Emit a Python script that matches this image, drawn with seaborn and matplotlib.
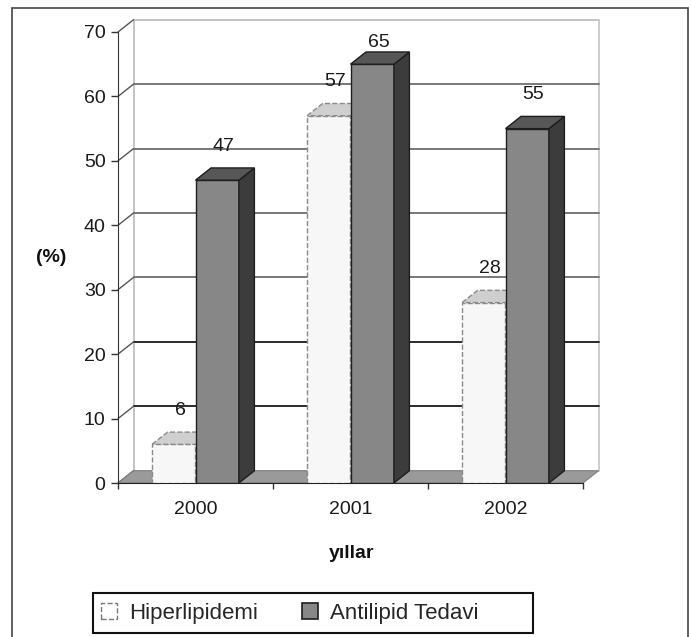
import matplotlib
matplotlib.use("Agg")
import matplotlib.pyplot as plt
from matplotlib.patches import Polygon, Rectangle, Patch
from matplotlib.lines import Line2D
import pandas as pd
import seaborn as sns

# Data
years = ["2000", "2001", "2002"]
series_names = ["Hiperlipidemi", "Antilipid Tedavi"]
hiperlipidemi = [6, 57, 28]
antilipid = [47, 65, 55]
y_ticks = [0, 10, 20, 30, 40, 50, 60, 70]

df = pd.DataFrame({
    "yil": years * 2,
    "deger": hiperlipidemi + antilipid,
    "seri": [series_names[0]] * 3 + [series_names[1]] * 3,
})

sns.set_style("white")
plt.rcParams["font.family"] = ["Liberation Sans Narrow", "Arial Narrow",
                               "Liberation Sans", "DejaVu Sans"]

W, H = 691, 637
fig = plt.figure(figsize=(W / 100, H / 100), dpi=100)
ax = fig.add_axes([118 / W, (H - 483) / H, (583 - 118) / W, (483 - 32) / H])

face = {"Hiperlipidemi": "#f7f7f7", "Antilipid Tedavi": "#878787"}
sns.barplot(data=df, x="yil", y="deger", hue="seri", palette=face,
            width=0.56, gap=0, saturation=1, legend=False, ax=ax, zorder=3)

ax.set_xlim(-0.5, 2.5)
ax.set_ylim(0, 70)

# depth of the pseudo-3D box (data units)
DX, DY = 0.1, 1.9
x0, x1 = -0.5, 2.5

# back wall, floor and gridlines
wall = Rectangle((x0 + DX, DY), x1 - x0, 70, facecolor="white",
                 edgecolor="#c4c4c4", lw=1.2, zorder=0.5, clip_on=False)
ax.add_patch(wall)
floor = Polygon([(x0, 0), (x1, 0), (x1 + DX, DY), (x0 + DX, DY)],
                closed=True, facecolor="#9a9a9a", edgecolor="#808080",
                lw=0.8, zorder=1, clip_on=False)
ax.add_patch(floor)
grid_colors = {10: "#1a1a1a", 20: "#1a1a1a", 30: "#6e6e6e", 40: "#6e6e6e",
               50: "#6e6e6e", 60: "#6e6e6e", 70: "#c4c4c4"}
for v in y_ticks[1:]:
    ax.add_line(Line2D([x0 + DX, x1 + DX], [v + DY, v + DY], color=grid_colors[v],
                       lw=1.3, zorder=0.8, clip_on=False))
for v in y_ticks:
    ax.add_line(Line2D([x0, x0 + DX], [v, v + DY], color="#555555",
                       lw=1.0, zorder=0.8, clip_on=False))
ax.add_line(Line2D([x0 + DX, x0 + DX], [DY, 70 + DY], color="#c4c4c4",
                   lw=1.2, zorder=0.7, clip_on=False))

# style bars and add side / top faces
styles = [
    dict(edge="#8a8a8a", ls="--", side="#e0e0e0", top="#cfcfcf", z=3),
    dict(edge="#1e1e1e", ls="-", side="#3c3c3c", top="#575757", z=4),
]
for container, st in zip(ax.containers, styles):
    for bar in container:
        bar.set_edgecolor(st["edge"])
        bar.set_linestyle(st["ls"])
        bar.set_linewidth(1.0)
        bar.set_zorder(st["z"])
        bx, bw, bh = bar.get_x(), bar.get_width(), bar.get_height()
        side = Polygon([(bx + bw, 0), (bx + bw + DX, DY), (bx + bw + DX, bh + DY),
                        (bx + bw, bh)], closed=True, facecolor=st["side"],
                       edgecolor=st["edge"], ls=st["ls"], lw=1.0, zorder=st["z"])
        top = Polygon([(bx, bh), (bx + DX, bh + DY), (bx + bw + DX, bh + DY),
                       (bx + bw, bh)], closed=True, facecolor=st["top"],
                      edgecolor=st["edge"], ls=st["ls"], lw=1.0, zorder=st["z"])
        ax.add_patch(side)
        ax.add_patch(top)
        ax.text(bx + bw / 2 + 0.04, min(bh + 5.3, 68.3), f"{bh:g}",
                ha="center", va="center", fontsize=14, color="#1a1a1a",
                zorder=6, clip_on=False)

# axes styling
for s in ["top", "right"]:
    ax.spines[s].set_visible(False)
ax.spines["left"].set_color("#333333")
ax.spines["bottom"].set_color("#222222")
ax.spines["left"].set_zorder(2)
ax.spines["bottom"].set_zorder(2)
ax.set_yticks(y_ticks)
ax.set_xticks([0, 1, 2])
ax.set_xticklabels(years)
ax.set_xticks([-0.5, 0.5, 1.5, 2.5], minor=True)
ax.tick_params(axis="y", length=5, width=1, color="#333333", pad=4,
               labelsize=14, labelcolor="#1a1a1a", left=True, direction="out")
ax.tick_params(axis="x", which="major", length=0, pad=13, labelsize=14,
               labelcolor="#1a1a1a")
ax.tick_params(axis="x", which="minor", length=4, width=1, color="#333333",
               bottom=True, direction="out")
ax.set_xlabel("")
ax.set_ylabel("")
ax.grid(False)

fig.text(51 / W, 1 - 257 / H, "(%)", ha="center", va="center",
         fontsize=14, fontweight="bold", color="#111111")
fig.text(352 / W, 1 - 558 / H, "yıllar", ha="center", va="baseline",
         fontsize=14, fontweight="bold", color="#111111")

# legend: entries without frame, box drawn separately
handles = [
    Patch(facecolor="white", edgecolor="#777777", linestyle="--", lw=1.0),
    Patch(facecolor="#878787", edgecolor="#1e1e1e", lw=1.2),
]
leg = fig.legend(handles, series_names, ncol=2, loc="center left",
                 bbox_to_anchor=(101 / W, 1 - 613 / H), fontsize=16,
                 frameon=False, handlelength=0.7, handleheight=0.7,
                 handletextpad=0.55, columnspacing=2.0, borderpad=0,
                 borderaxespad=0)
fig.add_artist(Rectangle((93 / W, 1 - 633 / H), (533 - 93) / W, 40 / H,
                         transform=fig.transFigure, fill=False,
                         edgecolor="#111111", lw=1.5))

# outer frame
fig.add_artist(Rectangle((12 / W, -0.01), (688 - 12) / W, 1.01 - 8 / H,
                         transform=fig.transFigure, fill=False,
                         edgecolor="#444444", lw=1.2))

fig.savefig("out.png", dpi=100)
